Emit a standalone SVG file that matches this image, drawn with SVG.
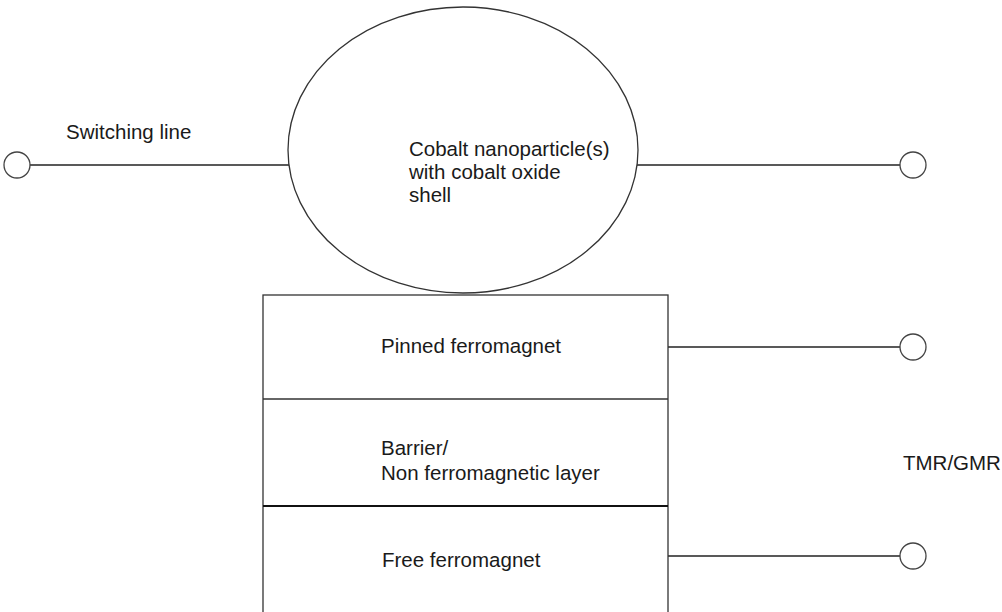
<svg xmlns="http://www.w3.org/2000/svg" width="1002" height="612" viewBox="0 0 1002 612">
  <style>
    .wire { stroke: #222; stroke-width: 1.3; fill: none; }
    .term { stroke: #444; stroke-width: 1.3; fill: #fff; }
    .body { stroke: #333; stroke-width: 1.3; fill: #fff; }
    .lbl { font-family: "Liberation Sans", Arial, sans-serif; font-size: 20.5px; fill: #1a1a1a; }
  </style>
  <rect width="1002" height="612" fill="#fff"/>

  <!-- wires between terminals and the device -->
  <g id="connectors">
    <line class="wire" x1="30" y1="165" x2="289" y2="165"/>
    <line class="wire" x1="637" y1="165" x2="900" y2="165"/>
    <line class="wire" x1="668" y1="347" x2="900" y2="347"/>
    <line class="wire" x1="668" y1="556" x2="900" y2="556"/>
  </g>

  <!-- terminals -->
  <g id="term-switch-left"><circle class="term" cx="17" cy="165" r="13"/></g>
  <g id="term-switch-right"><circle class="term" cx="913" cy="165" r="13"/></g>
  <g id="term-pinned"><circle class="term" cx="913" cy="347" r="13"/></g>
  <g id="term-free"><circle class="term" cx="913" cy="556" r="13"/></g>

  <!-- nanoparticle -->
  <g id="nanoparticle">
    <ellipse class="body" cx="463" cy="150" rx="175" ry="143"/>
    <text class="lbl" x="409" y="156">Cobalt nanoparticle(s)</text>
    <text class="lbl" x="409" y="179">with cobalt oxide</text>
    <text class="lbl" x="409" y="202">shell</text>
  </g>

  <!-- layer stack -->
  <g id="stack">
    <rect class="body" x="263" y="295" width="405" height="330" stroke="#555"/>
  </g>
  <g id="pinned-layer">
    <line x1="263" y1="399" x2="668" y2="399" stroke="#333" stroke-width="1.3"/>
    <text class="lbl" x="381" y="353">Pinned ferromagnet</text>
  </g>
  <g id="barrier-layer">
    <line x1="263" y1="506" x2="668" y2="506" stroke="#111" stroke-width="2"/>
    <text class="lbl" x="381" y="455">Barrier/</text>
    <text class="lbl" x="381" y="480">Non ferromagnetic layer</text>
  </g>
  <g id="free-layer">
    <text class="lbl" x="382" y="567">Free ferromagnet</text>
  </g>

  <!-- labels -->
  <g id="label-switching"><text class="lbl" x="66" y="139">Switching line</text></g>
  <g id="label-tmr"><text class="lbl" x="903" y="470">TMR/GMR</text></g>
</svg>
